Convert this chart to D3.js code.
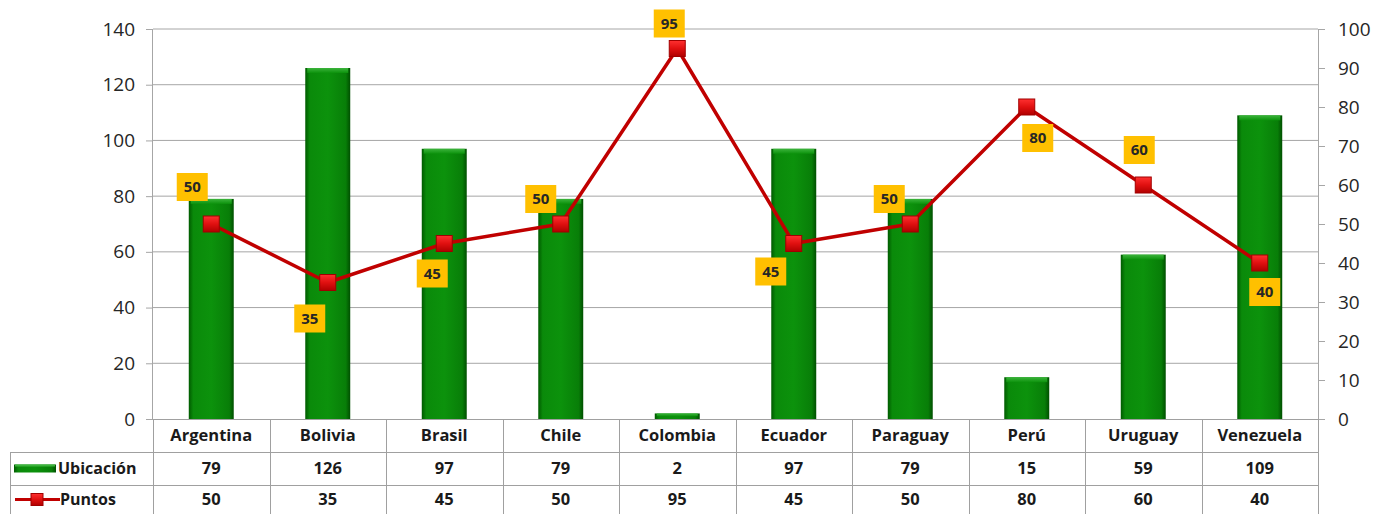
<!DOCTYPE html>
<html><head><meta charset="utf-8">
<script src="https://cdn.jsdelivr.net/npm/d3@7"></script>
<style>html,body{margin:0;padding:0;background:#fff;}svg{display:block;font-family:"Open Sans",Lato,sans-serif;}</style>
</head><body><svg id="c" width="1389" height="514"></svg>
<script>
const categories = ["Argentina","Bolivia","Brasil","Chile","Colombia","Ecuador","Paraguay","Perú","Uruguay","Venezuela"];
const ubicacion = [79,126,97,79,2,97,79,15,59,109];
const puntos = [50,35,45,50,95,45,50,80,60,40];
const leftTicks = [0,20,40,60,80,100,120,140];
const rightTicks = [0,10,20,30,40,50,60,70,80,90,100];
const seriesNames = ["Ubicación","Puntos"];
// label placement (layout only): offset of the label box from its point
const labelOffsets = [[-19,-37],[-18,36],[-12,30],[-20,-25],[-8,-25],[-23,28],[-21,-25],[11,31],[-4,-35],[5,29]];

const svg = d3.select("#c");
const L = 153, R = 1318, T = 29, B = 419;
const rowH = [419,452,485,518];
const tableLeft = 10;
const FT = "'Open Sans', Lato, sans-serif";

const yL = d3.scaleLinear().domain([0,140]).range([B,T]);
const yR = d3.scaleLinear().domain([0,100]).range([B,T]);
const xCol = d3.scaleBand().domain(categories).range([L,R]).padding(0);
const xBar = d3.scaleBand().domain(categories).range([L,R]).paddingInner(0.614).paddingOuter(0.307);

const defs = svg.append("defs");
const gb = defs.append("linearGradient").attr("id","barG").attr("x1","0").attr("x2","1").attr("y1","0").attr("y2","0");
[[0,"#005a00"],[0.1,"#0a8a0a"],[0.5,"#0c920c"],[0.9,"#087e08"],[1,"#004f00"]].forEach(s=>gb.append("stop").attr("offset",s[0]).attr("stop-color",s[1]));
const gt = defs.append("linearGradient").attr("id","barTop").attr("x1","0").attr("x2","0").attr("y1","0").attr("y2","1");
[[0,"#3cb43c"],[1,"#0c920c"]].forEach(s=>gt.append("stop").attr("offset",s[0]).attr("stop-color",s[1]));
const gm = defs.append("linearGradient").attr("id","mkG").attr("x1","0").attr("x2","0").attr("y1","0").attr("y2","1");
[[0,"#ff3030"],[0.5,"#e01010"],[1,"#b00000"]].forEach(s=>gm.append("stop").attr("offset",s[0]).attr("stop-color",s[1]));

// gridlines
svg.append("g").selectAll("line").data(leftTicks.filter(d=>d>0)).join("line")
  .attr("x1",L).attr("x2",R).attr("y1",d=>yL(d)).attr("y2",d=>yL(d))
  .attr("stroke","#a6a6a6").attr("stroke-width",1);

// left axis
const axL = svg.append("g").attr("transform",`translate(${L},0)`)
  .call(d3.axisLeft(yL).tickValues(leftTicks).tickSize(7).tickPadding(11));
axL.select(".domain").attr("stroke","#a6a6a6").attr("d",`M-0.5,${T}V${B}`);
axL.selectAll(".tick line").attr("stroke","#a6a6a6");
axL.selectAll("text").attr("font-size",19).attr("fill","#262626").attr("font-family",FT);

// right axis
const axR = svg.append("g").attr("transform",`translate(${R},0)`)
  .call(d3.axisRight(yR).tickValues(rightTicks).tickSize(7).tickPadding(13));
axR.select(".domain").attr("stroke","#a6a6a6").attr("d",`M0.5,${T}V${B}`);
axR.selectAll(".tick line").attr("stroke","#a6a6a6");
axR.selectAll("text").attr("font-size",19).attr("fill","#262626").attr("font-family",FT);

// bars
const bars = svg.append("g");
bars.selectAll("rect.b").data(categories).join("rect").attr("class","b")
  .attr("x",d=>xBar(d)).attr("width",xBar.bandwidth())
  .attr("y",(d,i)=>yL(ubicacion[i])).attr("height",(d,i)=>B-yL(ubicacion[i]))
  .attr("fill","url(#barG)");
bars.selectAll("rect.t").data(categories).join("rect").attr("class","t")
  .attr("x",d=>xBar(d)+2).attr("width",xBar.bandwidth()-4)
  .attr("y",(d,i)=>yL(ubicacion[i])).attr("height",(d,i)=>Math.min(5,(B-yL(ubicacion[i]))/2))
  .attr("fill","url(#barTop)");

// table
const tg = svg.append("g").attr("font-family",FT);
const gridC = "#a0a0a0";
tg.append("line").attr("x1",L).attr("x2",R).attr("y1",B+0.5).attr("y2",B+0.5).attr("stroke",gridC);
[1,2].forEach(r=>tg.append("line").attr("x1",tableLeft).attr("x2",R).attr("y1",rowH[r]+0.5).attr("y2",rowH[r]+0.5).attr("stroke",gridC));
tg.append("line").attr("x1",tableLeft+0.5).attr("x2",tableLeft+0.5).attr("y1",rowH[1]).attr("y2",514).attr("stroke",gridC);
tg.selectAll("line.v").data(categories.concat(["__end"])).join("line").attr("class","v")
  .attr("x1",(d,i)=>Math.round(L+i*xCol.step())+0.5).attr("x2",(d,i)=>Math.round(L+i*xCol.step())+0.5)
  .attr("y1",B).attr("y2",514).attr("stroke",gridC);
const cx = d=>xCol(d)+xCol.bandwidth()/2;
const rowMid = r=>(rowH[r]+rowH[r+1])/2;
const fsT = 16.5;
tg.selectAll("text.h").data(categories).join("text").attr("class","h")
  .attr("x",cx).attr("y",rowMid(0)).attr("dy","0.36em").attr("text-anchor","middle")
  .attr("font-size",fsT).attr("font-weight","bold").attr("fill","#1a1a1a").text(d=>d);
tg.selectAll("text.u").data(categories).join("text").attr("class","u")
  .attr("x",cx).attr("y",rowMid(1)).attr("dy","0.36em").attr("text-anchor","middle")
  .attr("font-size",fsT).attr("font-weight","bold").attr("fill","#1a1a1a").text((d,i)=>ubicacion[i]);
tg.selectAll("text.p").data(categories).join("text").attr("class","p")
  .attr("x",cx).attr("y",rowMid(2)-2).attr("dy","0.36em").attr("text-anchor","middle")
  .attr("font-size",fsT).attr("font-weight","bold").attr("fill","#1a1a1a").text((d,i)=>puntos[i]);

// legend keys
tg.append("rect").attr("x",14).attr("y",rowMid(1)-4).attr("width",42).attr("height",8).attr("fill","url(#barG)");
tg.append("rect").attr("x",15).attr("y",rowMid(1)-4).attr("width",40).attr("height",2).attr("fill","#3cb43c");
tg.append("line").attr("x1",15).attr("x2",60).attr("y1",rowMid(2)-2).attr("y2",rowMid(2)-2).attr("stroke","#c00000").attr("stroke-width",3);
tg.append("rect").attr("x",31).attr("y",rowMid(2)-8).attr("width",12).attr("height",12).attr("fill","url(#mkG)").attr("stroke","#a00000");
tg.append("text").attr("x",58).attr("y",rowMid(1)).attr("dy","0.36em").attr("font-size",16).attr("font-weight","bold").attr("fill","#1a1a1a").text(seriesNames[0]);
tg.append("text").attr("x",60).attr("y",rowMid(2)-2).attr("dy","0.36em").attr("font-size",16).attr("font-weight","bold").attr("fill","#1a1a1a").text(seriesNames[1]);

// line series
const px = d=>xBar(d)+xBar.bandwidth()/2;
const line = d3.line().x(d=>px(d.c)).y(d=>yR(d.v));
const pts = categories.map((c,i)=>({c,v:puntos[i],i}));
svg.append("path").datum(pts).attr("d",line).attr("fill","none").attr("stroke","#c00000").attr("stroke-width",3.5).attr("stroke-linejoin","round");
const ms = 16;
svg.append("g").selectAll("rect").data(pts).join("rect")
  .attr("x",d=>px(d.c)-ms/2).attr("y",d=>yR(d.v)-ms/2).attr("width",ms).attr("height",ms)
  .attr("fill","url(#mkG)").attr("stroke","#a00000").attr("stroke-width",1);

// data labels
const lg = svg.append("g").attr("font-family",FT).selectAll("g").data(pts).join("g")
  .attr("transform",d=>`translate(${px(d.c)+labelOffsets[d.i][0]},${yR(d.v)+labelOffsets[d.i][1]})`);
lg.append("rect").attr("x",-15.5).attr("y",-14).attr("width",31).attr("height",28).attr("fill","#ffc000");
lg.append("text").attr("text-anchor","middle").attr("dy","0.36em").attr("font-size",15).attr("font-weight","bold").attr("fill","#262626").text(d=>d.v);
</script></body></html>
